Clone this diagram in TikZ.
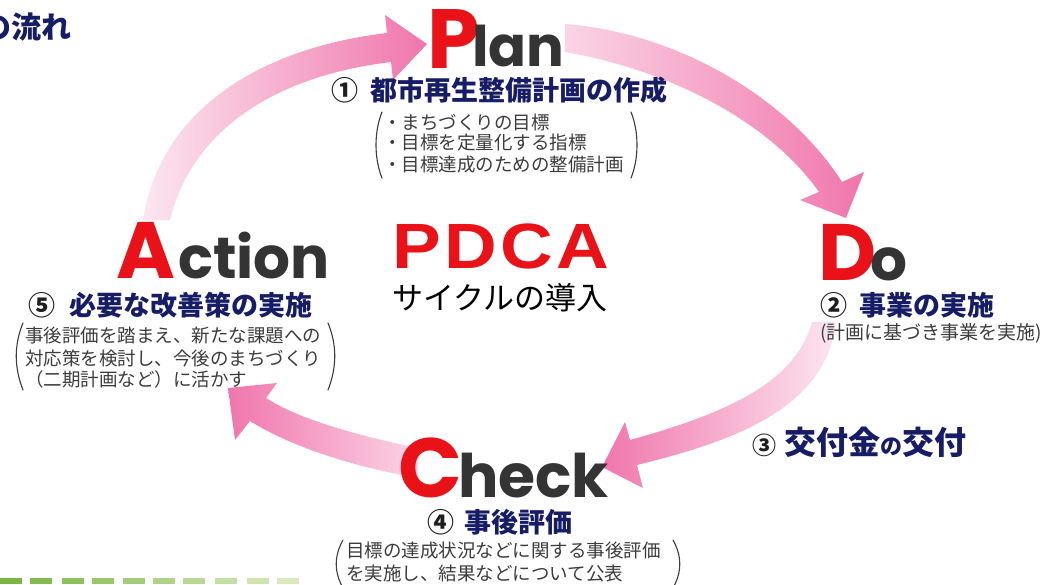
\documentclass[tikz,border=0pt]{standalone}
\usepackage{fontspec}
\usepackage{graphicx}
\newfontfamily\jp{Noto Sans CJK JP}
\newfontfamily\geo{Poppins}
\newfontfamily\arl{Liberation Sans}
\definecolor{navyc}{RGB}{22,28,102}
\definecolor{redc}{RGB}{232,18,24}
\definecolor{darkc}{RGB}{52,52,52}
\definecolor{graytxt}{RGB}{60,60,60}
\definecolor{numc}{RGB}{30,30,30}
\definecolor{pkD}{RGB}{240,118,172}
\definecolor{pkL}{RGB}{251,212,229}
\definecolor{pkVL}{RGB}{252,230,240}
\definecolor{gD}{RGB}{122,180,66}
\definecolor{gL}{RGB}{228,240,205}
\tikzset{
  navyt/.style={text=navyc, font=\jp\bfseries\fontsize{27}{30}\selectfont, inner sep=0, anchor=west},
  smallt/.style={text=graytxt, font=\jp\fontsize{18.5}{22}\selectfont, inner sep=0, anchor=west},
  bigred/.style={text=redc, font=\geo\bfseries\fontsize{80}{80}\selectfont, inner sep=0, anchor=base west},
  lowert/.style={text=darkc, font=\geo\bfseries\fontsize{#1}{#1}\selectfont, inner sep=0, anchor=base west},
  paren/.style={draw=graytxt, line width=1.1pt, line cap=round},
}
\newcommand{\numc}[1]{{\color{numc}#1}}
\begin{document}
\begin{tikzpicture}[x=1pt,y=-1pt]
\useasboundingbox (0,0) rectangle (1044,584);
\fill[white] (0,0) rectangle (1044,584);

% ---- arrows ----
% Action -> Plan
\shade[left color=pkVL, right color=pkD]
  (143,220) .. controls (160,110) and (260,48) .. (387,33)
  -- (385,15) -- (427,44) -- (393,80) -- (391,62)
  .. controls (275,76) and (192,130) .. (170,220) -- cycle;
% Plan -> Do
\shade[left color=pkL, right color=pkD]
  (565,24) .. controls (680,33) and (790,100) .. (842,182)
  -- (864,172) -- (846,218) -- (800,200) -- (819,192)
  .. controls (770,122) and (670,70) .. (565,52) -- cycle;
% Do -> Check
\shade[right color=pkVL, left color=pkD]
  (836,322) .. controls (826,410) and (730,442) .. (637,465)
  -- (643,488) -- (602,467) -- (625,422) -- (630,440)
  .. controls (720,415) and (795,385) .. (812,322) -- cycle;
% Check -> Action
\shade[right color=pkL, left color=pkD]
  (418,448) .. controls (360,436) and (300,420) .. (266,398)
  -- (277,383) -- (228,388) -- (235,440) -- (250,421)
  .. controls (290,446) and (350,466) .. (418,478) -- cycle;

% ---- title fragment ----
\node[anchor=west, font=\jp\bfseries\fontsize{30}{30}\selectfont, text=navyc, inner sep=0] (ttl) at (-19,27) {の流れ};

% ---- Plan ----
\node[bigred, font=\geo\bfseries\fontsize{84}{84}\selectfont] (pP) at (427,68) {P};
\node[lowert=56] (pL) at (472,66) {lan};
\node[navyt] (pT) at (331,90) {\numc{①}\hspace{12pt}都市再生整備計画の作成};
\node[smallt] (p1) at (383,122) {・まちづくりの目標};
\node[smallt] (p2) at (383,143) {・目標を定量化する指標};
\node[smallt] (p3) at (383,165) {・目標達成のための整備計画};
\draw[paren] (382,112) .. controls (374,132) and (374,158) .. (382,178);
\draw[paren] (631,112) .. controls (639,132) and (639,158) .. (631,178);

% ---- Do ----
\node[bigred] (dD) at (818,280) {D};
\node[lowert=58] (dO) at (870,280) {o};
\node[navyt] (dT) at (820,305) {\numc{②}\hspace{12pt}事業の実施};
\node[smallt, font=\jp\fontsize{19}{22}\selectfont] (d1) at (820,333) {(計画に基づき事業を実施)};

% ---- Kofu ----
\node[anchor=west, inner sep=0, text=navyc, font=\jp\bfseries\fontsize{32}{34}\selectfont] (kT) at (752,442)
  {{\fontsize{24}{24}\selectfont\numc{③}}\hspace{8pt}交付金{\fontsize{22}{22}\selectfont の}交付};

% ---- Check ----
\node[bigred, font=\geo\bfseries\fontsize{84}{84}\selectfont] (cC) at (398,497) {C};
\node[lowert=60] (cH) at (458,497) {heck};
\node[navyt] (cT) at (427,522) {\numc{④}\hspace{10pt}事後評価};
\node[smallt] (c1) at (346,551) {目標の達成状況などに関する事後評価};
\node[smallt] (c2) at (346,573) {を実施し、結果などについて公表};
\draw[paren] (343,540) .. controls (334,556) and (334,572) .. (343,588);
\draw[paren] (673,540) .. controls (682,556) and (682,572) .. (673,588);

% ---- Action ----
\node[bigred] (aA) at (116,278) {A};
\node[lowert=58] (aC) at (178,278) {ction};
\node[navyt] (aT) at (28,305) {\numc{⑤}\hspace{14pt}必要な改善策の実施};
\node[smallt] (a1) at (25,336) {事後評価を踏まえ、新たな課題への};
\node[smallt] (a2) at (25,358) {対応策を検討し、今後のまちづくり};
\node[smallt] (a3) at (25,379) {（二期計画など）に活かす};
\draw[paren] (23,323) .. controls (14,345) and (14,367) .. (23,390);
\draw[paren] (328,323) .. controls (337,345) and (337,367) .. (328,390);

% ---- center ----
\node[inner sep=0, anchor=base, text=redc, font=\arl\bfseries\fontsize{64}{64}\selectfont] (pdca) at (501,268)
  {\scalebox{1.14}[1]{P\hspace{3pt}D\hspace{3pt}C\hspace{3pt}A}};
\node[inner sep=0, text=black, font=\jp\fontsize{31}{34}\selectfont] (cyc) at (500,298) {サイクルの導入};

% ---- green strip ----
\foreach \x [count=\i from 0] in {0,30,62,92,123,153,183,215,247,277} {
  \pgfmathtruncatemacro\p{100-\i*10}
  \fill[gD!\p!gL] (\x,578) rectangle ++(22,6);
}
\end{tikzpicture}
\end{document}
